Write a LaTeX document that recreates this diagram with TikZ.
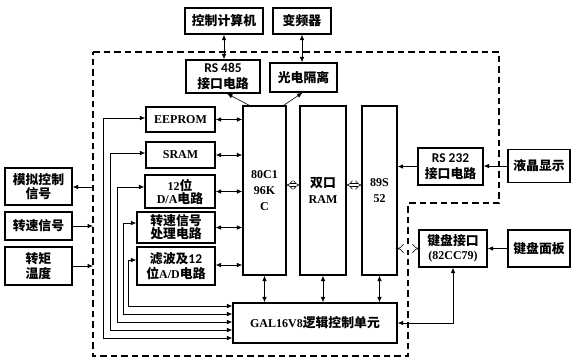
\documentclass[tikz,border=0pt]{standalone}
\usepackage{fontspec}
\setmainfont{Liberation Serif}
\newfontfamily\cjk{Noto Sans CJK SC}[Scale=1.07]
\newfontfamily\rsfont{Carlito}[Scale=1.12]
\usetikzlibrary{arrows.meta,calc}
\newcommand\zh[1]{{\cjk #1}}
\newcommand\rs[1]{{\rsfont #1}}
\begin{document}
\begin{tikzpicture}[x=1pt,y=-1pt,
  >={Latex[length=5.5pt,width=4.5pt]},
  box/.style={draw, line width=1.3pt, inner sep=1pt, align=center,
    font=\fontsize{12}{16}\selectfont\bfseries},
  con/.style={line width=0.6pt},
  hol/.style={double, double distance=2.6pt, line width=0.6pt, {Implies}-{Implies}},
  bound/.style={line width=1.8pt, dash pattern=on 6.5pt off 4pt}]
\useasboundingbox (0,0) rectangle (573,359);
% boundary
\draw[bound] (93,52) -- (499,52) -- (499,203) -- (408,203) -- (408,356) -- (93,356) -- cycle;
% boxes
\node[box, minimum width=78pt, minimum height=26pt] (pc) at (224,21) {\zh{控制计算机}};
\node[box, minimum width=58pt, minimum height=26pt] (vfd) at (302,21) {\zh{变频器}};
\node[box, minimum width=74pt, minimum height=33pt] (rs485) at (223,76.5) {\rs{RS 485}\\[0pt]\zh{接口电路}};
\node[box, minimum width=67pt, minimum height=29pt] (opto) at (303.5,77.5) {\zh{光电隔离}};
\node[box, minimum width=43pt, minimum height=169pt] (cpu) at (264.5,190.5) {80C1\\96K\\C};
\node[box, minimum width=46pt, minimum height=169pt] (ram) at (323,190.5) {\zh{双口}\\RAM};
\node[box, minimum width=35pt, minimum height=169pt] (mcu) at (379.5,190.5) {89S\\52};
\node[box, minimum width=69pt, minimum height=25pt] (eeprom) at (180.5,119.5) {EEPROM};
\node[box, minimum width=69pt, minimum height=26pt] (sram) at (180.5,155) {SRAM};
\node[box, minimum width=70pt, minimum height=33pt] (da) at (180,191.5) {12\zh{位}\\[-3pt]D/A\zh{电路}};
\node[box, minimum width=78pt, minimum height=31pt] (spd) at (176,227.5) {\zh{转速信号}\\[-3pt]\zh{处理电路}};
\node[box, minimum width=78pt, minimum height=38pt] (ad) at (176,266) {\zh{滤波及}\rs{12}\\[-1pt]\zh{位}A/D\zh{电路}};
\node[box, minimum width=164pt, minimum height=40pt] (gal) at (315,323) {GAL16V8\zh{逻辑控制单元}};
\node[box, minimum width=67pt, minimum height=37pt] (analog) at (38.5,186.5) {\zh{模拟控制}\\[-2pt]\zh{信号}};
\node[box, minimum width=67pt, minimum height=28pt] (speed) at (38.5,226) {\zh{转速信号}};
\node[box, minimum width=67pt, minimum height=38pt] (torque) at (38.5,266) {\zh{转矩}\\[-1pt]\zh{温度}};
\node[box, minimum width=65pt, minimum height=37pt] (rs232) at (450.5,166.5) {\rs{RS 232}\\[0pt]\zh{接口电路}};
\node[box, minimum width=62pt, minimum height=33pt] (lcd) at (539,166) {\zh{液晶显示}};
\node[box, minimum width=68pt, minimum height=37pt] (kbif) at (453,248.5) {\zh{键盘接口}\\[-2pt](82CC79)};
\node[box, minimum width=62pt, minimum height=37pt] (kbp) at (539,248.5) {\zh{键盘面板}};
% top connectors
\draw[con,<->] (pc.south) -- (pc.south |- rs485.north);
\draw[con,<->] (vfd.south) -- (vfd.south |- opto.north);
\draw[con,->] ($(cpu.north west)+(7,0)$) -- ($(rs485.south)+(4,0)$);
\draw[con,->] ($(cpu.north east)+(-3,0)$) -- ($(opto.south)+(-1,0)$);
% left boxes to cpu
\draw[con,<->] (eeprom.east) -- (eeprom.east -| cpu.west);
\draw[con,<->] (sram.east) -- (sram.east -| cpu.west);
\draw[con,<->] (da.east) -- (da.east -| cpu.west);
\draw[con,<->] (spd.east) -- (spd.east -| cpu.west);
\draw[con,<->] ($(ad.east)+(0,-1)$) -- ($(ad.east -| cpu.west)+(0,-1)$);
% hollow buses
\draw[hol] (cpu.east |- 0,185) -- (ram.west |- 0,185);
\draw[hol] (ram.east |- 0,185) -- (mcu.west |- 0,185);
\draw[hol] (mcu.east |- 0,248.5) -- (kbif.west);
% verticals to GAL
\draw[con,<->] (cpu.south) -- (cpu.south |- gal.north);
\draw[con,<->] (ram.south) -- (ram.south |- gal.north);
\draw[con,<->] (mcu.south) -- (mcu.south |- gal.north);
% bus lines from GAL to left boxes
\draw[con,<->] (ad.west |- 0,260) -| (128,306) -- (gal.west |- 0,306);
\draw[con,<->] (spd.west |- 0,223) -| (123,314) -- (gal.west |- 0,314);
\draw[con,<->] (da.west |- 0,187) -| (117,322) -- (gal.west |- 0,322);
\draw[con,<->] (sram.west |- 0,153) -| (110,330) -- (gal.west |- 0,330);
\draw[con,<->] (eeprom.west |- 0,118) -| (103,338) -- (gal.west |- 0,338);
% outside left
\coordinate (bA) at (93,187);
\coordinate (bS) at (93,226);
\coordinate (bT) at (93,266);
\draw[con,->] (bA) -- (analog.east |- bA);
\draw[con,->] (speed.east) -- (bS);
\draw[con,->] (torque.east) -- (bT);
% right side
\draw[con,->] (rs232.west) -- (rs232.west -| mcu.east);
\draw[con,->] (lcd.west) -- (lcd.west -| rs232.east);
\draw[con,->] (kbp.west) -- (kbif.east);
\draw[con,<->] (kbif.south) |- (gal.east);
\end{tikzpicture}
\end{document}
